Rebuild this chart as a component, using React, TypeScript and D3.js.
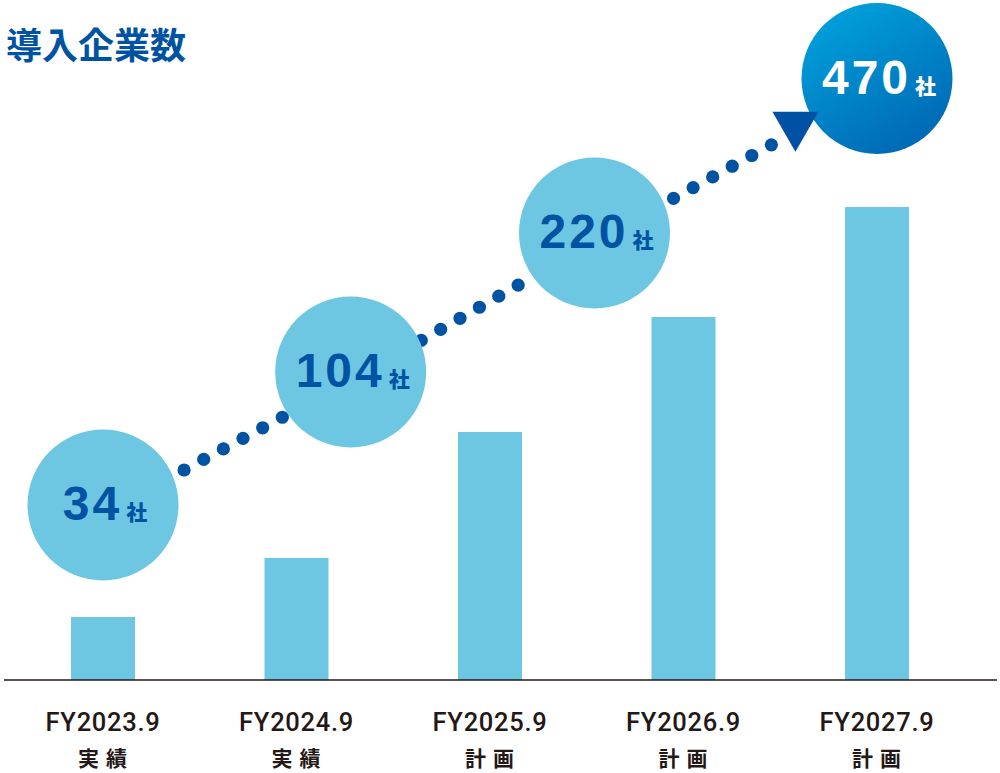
import React from "react";
import * as d3 from "d3";

const categories = ["FY2023.9", "FY2024.9", "FY2025.9", "FY2026.9", "FY2027.9"];
const subLabels = ["実績", "実績", "計画", "計画", "計画"];
// relative bar heights
const barValues = [63, 122, 248, 363, 473];
// callout bubbles
const calloutValues = [34, 104, 220, 470];
const calloutAt = [0, 1.28, 2.54, 4]; // position along the category axis
const calloutLevel = [175, 308, 447, 601.5]; // level on the value scale
const dotStarts = [88, 77, 86];
const title = "導入企業数";

const W = 1000;
const H = 773;
const BLUE = "#0053a2";
const LIGHT = "#6dc7e3";
const INK = "#231815";

export default function App() {
  const x = d3.scaleLinear().domain([0, 4]).range([103, 877]);
  const y = d3.scaleLinear().domain([0, 680]).range([680, 0]);
  const barW = 64;
  const R = 75.5;

  const centers = calloutValues.map((_, i) => ({ cx: x(calloutAt[i]), cy: y(calloutLevel[i]) }));

  const dots: { x: number; y: number }[] = [];
  for (let i = 0; i < centers.length - 1; i++) {
    const a = centers[i];
    const b = centers[i + 1];
    const dx = b.cx - a.cx;
    const dy = b.cy - a.cy;
    const len = Math.hypot(dx, dy);
    const ux = dx / len;
    const uy = dy / len;
    const px = -uy;
    const py = ux;
    for (let k = 0; k < 6; k++) {
      const t = dotStarts[i] + k * 22.3;
      dots.push({ x: a.cx + ux * t + px * 7.5, y: a.cy + uy * t + py * 7.5 });
    }
  }

  // triangle near last bubble
  const c3 = centers[2];
  const c4 = centers[3];
  const l3 = Math.hypot(c4.cx - c3.cx, c4.cy - c3.cy);
  const u3x = (c4.cx - c3.cx) / l3;
  const u3y = (c4.cy - c3.cy) / l3;
  const tcx = c4.cx - u3x * 93;
  const tcy = c4.cy - u3y * 93 + 2;
  const tri = d3.path();
  tri.moveTo(tcx - 23, tcy - 13.3);
  tri.lineTo(tcx + 23, tcy - 13.3);
  tri.lineTo(tcx, tcy + 26.7);
  tri.closePath();

  return (
    <svg
      width={W}
      height={H}
      viewBox={`0 0 ${W} ${H}`}
      style={{ position: "absolute", left: 0, top: 0, background: "#fff" }}
    >
      <defs>
        <linearGradient id="g470" x1="0.2" y1="0" x2="0.8" y2="1">
          <stop offset="0" stopColor="#00a2dd" />
          <stop offset="1" stopColor="#0065b2" />
        </linearGradient>
      </defs>
      <text
        x={6}
        y={59}
        fontFamily="'Noto Sans CJK JP', sans-serif"
        fontWeight={700}
        fontSize={36}
        fill={BLUE}
      >
        {title}
      </text>

      {barValues.map((v, i) => (
        <rect key={i} x={x(i) - barW / 2} y={y(v)} width={barW} height={y(0) - y(v)} fill={LIGHT} />
      ))}
      <line x1={4} x2={997} y1={y(0)} y2={y(0)} stroke={INK} strokeWidth={1.4} />

      {categories.map((c, i) => (
        <g key={c}>
          <text
            x={x(i)}
            y={731}
            textAnchor="middle"
            fontFamily="Roboto, 'Liberation Sans', sans-serif"
            fontWeight={500}
            fontSize={25.5}
            letterSpacing={0.7}
            fill={INK}
          >
            {c}
          </text>
          <text
            x={x(i) + 3}
            y={766}
            textAnchor="middle"
            fontFamily="'Noto Sans CJK JP', sans-serif"
            fontWeight={600}
            fontSize={21}
            letterSpacing={7}
            fill={INK}
          >
            {subLabels[i]}
          </text>
        </g>
      ))}

      {dots.map((d, i) => (
        <circle key={i} cx={d.x} cy={d.y} r={6.6} fill={BLUE} />
      ))}

      {centers.map((c, i) => (
        <circle
          key={i}
          cx={c.cx}
          cy={c.cy}
          r={R}
          fill={i === centers.length - 1 ? "url(#g470)" : LIGHT}
        />
      ))}

      <path d={tri.toString()} fill="#0051a3" />

      {centers.map((c, i) => {
        const last = i === centers.length - 1;
        return (
          <text
            key={i}
            x={c.cx + 2}
            y={c.cy + 15}
            textAnchor="middle"
            fontFamily="'Liberation Sans', Arial, sans-serif"
            fontWeight={700}
            fill={last ? "#ffffff" : BLUE}
          >
            <tspan fontSize={48} letterSpacing={3}>
              {calloutValues[i]}
            </tspan>
            <tspan fontSize={21} dx={4} fontFamily="'Noto Sans CJK JP', sans-serif" fontWeight={800}>
              社
            </tspan>
          </text>
        );
      })}
    </svg>
  );
}
